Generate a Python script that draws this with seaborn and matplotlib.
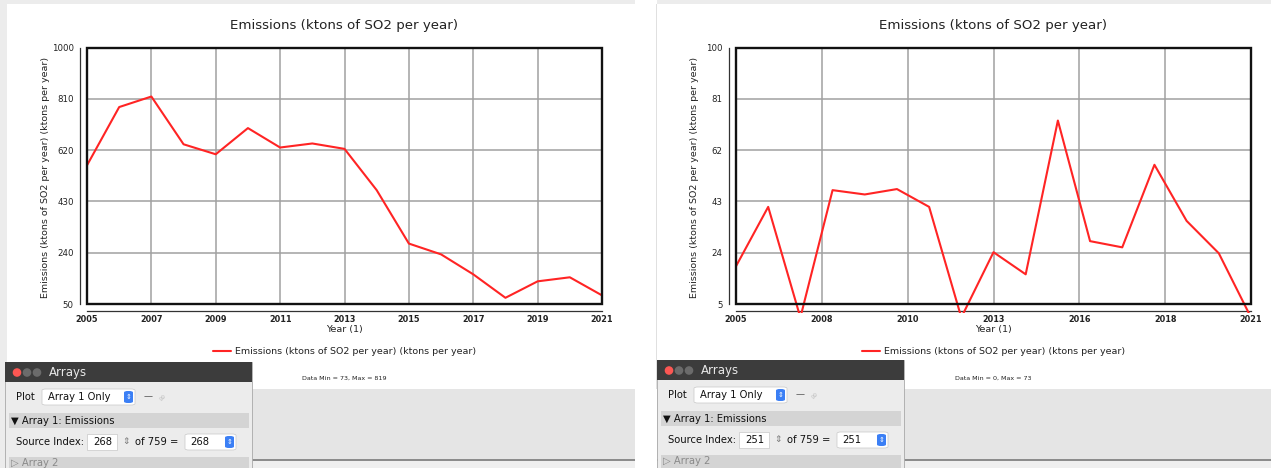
import numpy as np
import pandas as pd
import matplotlib
matplotlib.use("Agg")
import matplotlib.pyplot as plt
import seaborn as sns
from matplotlib.patches import Rectangle, FancyBboxPatch, Ellipse
from matplotlib.transforms import Bbox, TransformedBbox

# ---------------- data ----------------
years = list(range(2005, 2022))
left_values = [564, 780, 819, 642, 605, 702, 630, 645, 625, 472, 274, 234, 160, 73, 134, 149, 82]
right_values = [19, 41, 0, 47.2, 45.6, 47.6, 41, 0, 24.2, 16, 73, 28.3, 26, 56.6, 35.8, 23.8, 0]

title_text = "Emissions (ktons of SO2 per year)"
ylabel_text = "Emissions (ktons of SO2 per year) (ktons per year)"
xlabel_text = "Year (1)"
legend_text = "Emissions (ktons of SO2 per year) (ktons per year)"
left_yticks = [50, 240, 430, 620, 810, 1000]
right_yticks = [5, 24, 43, 62, 81, 100]
left_xticks = list(range(2005, 2022, 2))
right_xticks = list(np.linspace(2005, 2021, 7))
left_stats = "Data Min = 73, Max = 819"
right_stats = "Data Min = 0, Max = 73"
left_index = "268"
right_index = "251"

# ---------------- figure ----------------
sns.set_style("white")
plt.rcParams['font.family'] = ['DejaVu Sans']
W, H = 1271, 468
fig = plt.figure(figsize=(W / 100, H / 100), dpi=100, facecolor="white")


def fx(x):
    return x / W


def fy(y):
    return 1 - y / H


def prect(x0, y0, x1, y1, fc, ec="none", lw=0, z=-10, rounded=False):
    if rounded:
        p = FancyBboxPatch((fx(x0), fy(y1)), fx(x1) - fx(x0), fy(y0) - fy(y1),
                           boxstyle="round,pad=0,rounding_size=0.003",
                           transform=fig.transFigure, fc=fc, ec=ec, lw=lw, zorder=z)
    else:
        p = Rectangle((fx(x0), fy(y1)), fx(x1) - fx(x0), fy(y0) - fy(y1),
                      transform=fig.transFigure, fc=fc, ec=ec, lw=lw, zorder=z)
    fig.add_artist(p)
    return p


def ftext(x, y, s, z=-5, **kw):
    fig.text(fx(x), fy(y), s, zorder=z, **kw)


# background chrome
prect(0, 0, 1271, 4, "#ececec")
prect(0, 0, 7, 468, "#ececec")
prect(635, 0, 657, 4, "white")
prect(7, 389, 635, 459, "#e5e5e5")
prect(657, 389, 1271, 459, "#e5e5e5")
prect(7, 459, 635, 461, "#8c8c8c")
prect(657, 459, 1271, 461, "#8c8c8c")
prect(7, 461, 635, 468, "#efefef")
prect(657, 461, 1271, 468, "#efefef")
prect(656, 4, 657, 389, "#e0e0e0")


def make_chart(frame, values, yticks, xticks, stats):
    x0, x1 = frame
    y_top, y_bot = 47.7, 304
    ax = fig.add_axes([fx(x0), fy(y_bot), (x1 - x0) / W, (y_bot - y_top) / H])
    ax.set_facecolor("white")
    df = pd.DataFrame({"Year": years, "Emissions": values})
    sns.lineplot(data=df, x="Year", y="Emissions", ax=ax, color="#ff2424",
                 linewidth=1.5, label=legend_text, legend=False)
    for ln in ax.lines:
        ln.set_clip_box(TransformedBbox(Bbox([[-0.01, -0.035], [1.01, 1.0]]), ax.transAxes))
        ln.set_zorder(3)
    ax.set_xlim(2005, 2021)
    ax.set_ylim(yticks[0], yticks[-1])
    ax.set_xticks(xticks)
    ax.set_xticklabels([str(int(round(v))) for v in xticks])
    ax.set_xticks([(a + b) / 2 for a, b in zip(xticks[:-1], xticks[1:])], minor=True)
    ax.set_yticks(yticks)
    ax.set_yticklabels([str(v) for v in yticks])
    ax.set_yticks([(a + b) / 2 for a, b in zip(yticks[:-1], yticks[1:])], minor=True)
    ax.set_xlabel("")
    ax.set_ylabel("")
    for s in ["top", "right"]:
        ax.spines[s].set_visible(False)
    for s in ["left", "bottom"]:
        ax.spines[s].set_position(("outward", 5))
        ax.spines[s].set_linewidth(0.9)
        ax.spines[s].set_color("#333333")
    ax.tick_params(which="major", direction="inout", length=6, width=0.9,
                   colors="#333333", labelsize=6.2, pad=1.5, labelcolor="#222222")
    ax.tick_params(which="minor", direction="inout", length=3.5, width=0.8, colors="#333333")
    ax.tick_params(axis="x", which="major", pad=0.2)
    for lab in ax.get_xticklabels():
        lab.set_fontweight("bold")
        lab.set_fontsize(5.9)
    ax.grid(True, which="major", color="#a0a0a0", linewidth=1.1)
    ax.set_axisbelow(True)
    ax.add_patch(Rectangle((0, 0), 1, 1, transform=ax.transAxes, fill=False,
                           lw=1.7, ec="#111111", clip_on=False, zorder=5))
    cx = (x0 + x1) / 2
    ftext(cx, 25, title_text, ha="center", va="center", fontsize=9.6, color="#222222")
    ftext(x0 - 41, 177, ylabel_text, ha="center", va="center", rotation=90,
          fontsize=6.8, color="#222222")
    ftext(cx, 329.5, xlabel_text, ha="center", va="center", fontsize=6.8, color="#222222")
    ax.legend(loc="center", bbox_to_anchor=(fx(cx), fy(352)), bbox_transform=fig.transFigure,
              frameon=False, handlelength=1.9, handletextpad=0.35, fontsize=6.8,
              borderpad=0, labelcolor="#222222")
    ftext(cx, 378, stats, ha="center", va="center", fontsize=4.6, color="#222222")
    return ax


ax1 = make_chart((87, 602), left_values, left_yticks, left_xticks, left_stats)
ax2 = make_chart((736, 1251), right_values, right_yticks, right_xticks, right_stats)


def arrays_window(dx, dy, idx):
    Z = 20
    def X(x):
        return x + dx
    def Y(y):
        return y + dy
    prect(X(5), Y(362), X(252), 470, "#ececec", ec="#a8a8a8", lw=0.6, z=Z)
    prect(X(5), Y(362), X(252), Y(382), "#3c3c3c", z=Z + 1)
    for i, c in enumerate(["#fc5753", "#6b6b6b", "#6b6b6b"]):
        fig.add_artist(Ellipse((fx(X(17 + 10 * i)), fy(Y(372.5))), 8.6 / W, 8.6 / H,
                               transform=fig.transFigure, fc=c, ec="none", zorder=Z + 2))
    ftext(X(49), Y(372.5), "Arrays", z=Z + 2, ha="left", va="center", fontsize=8.5, color="#e8e8e8")
    ftext(X(16), Y(397), "Plot", z=Z + 2, ha="left", va="center", fontsize=7.2, color="#111111")
    prect(X(42), Y(389), X(135), Y(405), "white", ec="#c8c8c8", lw=0.5, z=Z + 1, rounded=True)
    ftext(X(48), Y(397), "Array 1 Only", z=Z + 2, ha="left", va="center", fontsize=7.2, color="#111111")
    prect(X(124), Y(391), X(133), Y(403), "#3b7ff5", z=Z + 2, rounded=True)
    ftext(X(128.5), Y(397), "⇕", z=Z + 3, ha="center", va="center", fontsize=5, color="white")
    ftext(X(144), Y(397), "—", z=Z + 2, ha="left", va="center", fontsize=6.5, color="#555555")
    ftext(X(157), Y(397), "∞", z=Z + 2, ha="left", va="center", fontsize=6.5, color="#bbbbbb",
          rotation=45)
    prect(X(9), Y(413), X(249), Y(428), "#d4d4d4", z=Z + 1)
    ftext(X(11), Y(420.5), "▼ Array 1: Emissions", z=Z + 2, ha="left", va="center",
          fontsize=7.2, color="#111111")
    ftext(X(16), Y(442), "Source Index:", z=Z + 2, ha="left", va="center", fontsize=7.2, color="#111111")
    prect(X(87), Y(434), X(117), Y(450), "white", ec="#c8c8c8", lw=0.5, z=Z + 1)
    ftext(X(112), Y(442), idx, z=Z + 2, ha="right", va="center", fontsize=7.2, color="#111111")
    ftext(X(126), Y(442), "⇕", z=Z + 2, ha="center", va="center", fontsize=6.5, color="#777777")
    ftext(X(135), Y(442), "of 759 =", z=Z + 2, ha="left", va="center", fontsize=7.2, color="#111111")
    prect(X(185), Y(434), X(236), Y(450), "white", ec="#c8c8c8", lw=0.5, z=Z + 1, rounded=True)
    ftext(X(190), Y(442), idx, z=Z + 2, ha="left", va="center", fontsize=7.2, color="#111111")
    prect(X(225), Y(436), X(234), Y(448), "#3b7ff5", z=Z + 2, rounded=True)
    ftext(X(229.5), Y(442), "⇕", z=Z + 3, ha="center", va="center", fontsize=5, color="white")
    prect(X(9), Y(457), X(249), 470, "#d4d4d4", z=Z + 1)
    ftext(X(11), Y(463.5), "▷ Array 2", z=Z + 2, ha="left", va="center", fontsize=7.2, color="#8a8a8a")


arrays_window(0, 0, left_index)
arrays_window(652, -2, right_index)

fig.savefig("out.png", dpi=100, facecolor=fig.get_facecolor())
